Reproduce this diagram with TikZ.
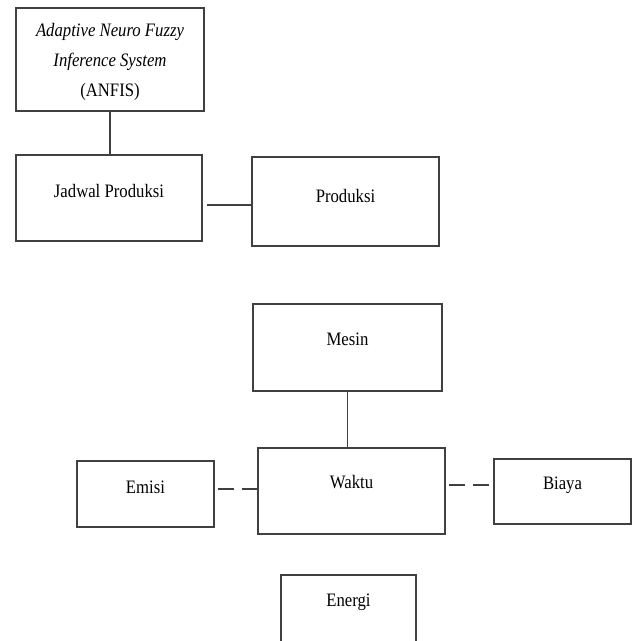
\documentclass[tikz,border=0pt]{standalone}
\usepackage{fontspec}
\setmainfont{Liberation Serif}[FakeStretch=0.88]
\begin{document}
\begin{tikzpicture}[x=1pt, y=-1pt]
\tikzstyle{blok}=[rectangle, draw=black!75, line width=1.2pt, inner sep=0pt,
                  text=black, font=\fontsize{19}{30}\selectfont]
\tikzstyle{tks}=[text height=13pt, text depth=#1]
\tikzstyle{garis}=[draw=black!75, line width=1.2pt]
\tikzstyle{putus}=[garis, dash pattern=on 16.5pt off 7.5pt, dash phase=21pt]
\clip (0,0) rectangle (632,641);
	\node[blok, text depth=-6pt, minimum width=188pt, minimum height=103pt, align=center] (anfis) at (110,59.5)
	  {\textit{Adaptive Neuro Fuzzy}\\ \textit{Inference System}\\ (ANFIS)};
	\node[blok, tks=14.4pt, minimum width=186pt, minimum height=86pt] (jadwal) at (109,198){Jadwal Produksi};
	\node[blok, tks=11.4pt, minimum width=187pt, minimum height=89pt] (produksi) at (345.5,201.5){Produksi};
	\node[blok, tks=17.4pt, minimum width=189pt, minimum height=87pt] (mesin) at (347.5,347.5){Mesin};
	\node[blok, tks=18.4pt, minimum width=187pt, minimum height=86pt] (waktu) at (351.5,491){Waktu};
	\node[blok, tks=14.4pt, minimum width=137pt, minimum height=66pt] (emisi) at (145.5,494){Emisi};
	\node[blok, tks=17.4pt, minimum width=137pt, minimum height=65pt] (biaya) at (562.5,491.5){Biaya};
	\node[blok, tks=18.4pt, minimum width=135pt, minimum height=68pt] (energi) at (348.5,609){Energi};

\draw[garis] (anfis.south) -- (anfis.south |- jadwal.north);
\draw[garis] ([xshift=4pt,yshift=-7pt]jadwal.east) -- ([yshift=-7pt]jadwal.east -| produksi.west);
\draw[garis] (mesin.south) -- (mesin.south |- waktu.north);
\draw[putus] ([yshift=5pt]emisi.east) -- ([yshift=5pt]emisi.east -| waktu.west);
\draw[putus] ([yshift=6pt]waktu.east) -- ([yshift=6pt]waktu.east -| biaya.west);

\end{tikzpicture}
\end{document}
